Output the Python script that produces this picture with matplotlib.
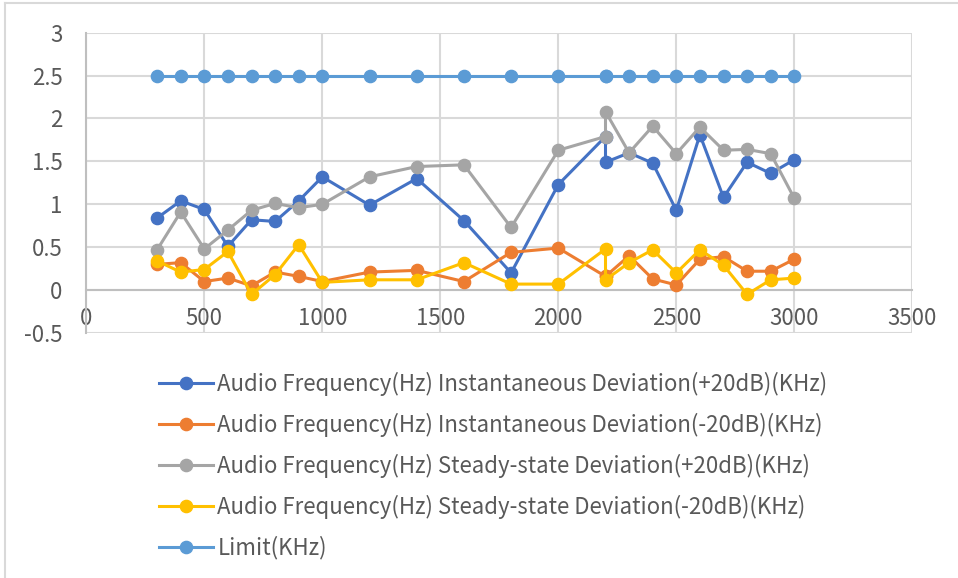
import matplotlib
matplotlib.use('Agg')
import matplotlib.pyplot as plt
from matplotlib.lines import Line2D

plt.rcParams['font.family'] = ['Noto Sans CJK SC', 'DejaVu Sans']

# audio frequency (Hz); 2200 appears twice in the source table
freq = [300, 400, 500, 600, 700, 800, 900, 1000, 1200, 1400, 1600, 1800, 2000,
        2200, 2200, 2300, 2400, 2500, 2600, 2700, 2800, 2900, 3000]

inst_pos = [0.84, 1.04, 0.94, 0.51, 0.82, 0.80, 1.04, 1.32, 0.99, 1.30, 0.81, 0.20, 1.23,
            1.79, 1.49, 1.60, 1.48, 0.93, 1.81, 1.08, 1.49, 1.36, 1.52]
inst_neg = [0.30, 0.32, 0.10, 0.14, 0.05, 0.21, 0.16, 0.10, 0.21, 0.23, 0.10, 0.44, 0.49,
            0.16, 0.16, 0.40, 0.13, 0.06, 0.36, 0.39, 0.22, 0.22, 0.36]
steady_pos = [0.47, 0.91, 0.48, 0.70, 0.93, 1.01, 0.96, 1.00, 1.32, 1.44, 1.46, 0.73, 1.63,
              1.79, 2.08, 1.60, 1.91, 1.59, 1.90, 1.63, 1.64, 1.59, 1.07]
steady_neg = [0.34, 0.21, 0.24, 0.45, -0.05, 0.18, 0.53, 0.09, 0.12, 0.12, 0.32, 0.07, 0.07,
              0.48, 0.12, 0.32, 0.47, 0.20, 0.47, 0.29, -0.05, 0.12, 0.14]
limit = [2.5] * len(freq)

labels = ['Audio Frequency(Hz) Instantaneous Deviation(+20dB)(KHz)',
          'Audio Frequency(Hz) Instantaneous Deviation(-20dB)(KHz)',
          'Audio Frequency(Hz) Steady-state Deviation(+20dB)(KHz)',
          'Audio Frequency(Hz) Steady-state Deviation(-20dB)(KHz)',
          'Limit(KHz)']
colors = ['#4472C4', '#ED7D31', '#A5A5A5', '#FFC000', '#5B9BD5']

W, H = 958, 578
fig = plt.figure(figsize=(W / 100, H / 100), dpi=100)

# outer chart border (only top and left visible)
fig.add_artist(Line2D([5 / W, 5 / W], [0, 1 - 3 / H], color='#d9d9d9', lw=1.5))
fig.add_artist(Line2D([5 / W, 1], [1 - 3 / H, 1 - 3 / H], color='#d9d9d9', lw=1.5))

ax = fig.add_axes([86.3 / W, 1 - 333 / H, (912.3 - 86.3) / W, (333 - 32.7) / H])

series = [inst_pos, inst_neg, steady_pos, steady_neg, limit]
handles = []
for vals, c, lab in zip(series, colors, labels):
    h, = ax.plot(freq, vals, color=c, lw=2.2, marker='o', markersize=8.8, label=lab,
                 zorder=3)
    handles.append(h)

ax.set_xlim(0, 3500)
ax.set_ylim(-0.5, 3)
ax.set_xticks(range(0, 3501, 500))
ax.set_yticks([-0.5, 0, 0.5, 1, 1.5, 2, 2.5, 3])
ax.set_yticklabels(['-0.5', '0', '0.5', '1', '1.5', '2', '2.5', '3'])
ax.grid(True, color='#d9d9d9', lw=1.5)
ax.set_axisbelow(True)

for s in ['top', 'right']:
    ax.spines[s].set_visible(False)
ax.spines['left'].set_color('#bfbfbf')
ax.spines['left'].set_linewidth(1.5)
ax.spines['bottom'].set_position(('data', 0))
ax.spines['bottom'].set_color('#bfbfbf')
ax.spines['bottom'].set_linewidth(1.5)
ax.tick_params(length=0, labelsize=16, labelcolor='#595959')
ax.tick_params(axis='y', pad=17)
ax.tick_params(axis='x', pad=12)

fig.legend(handles=handles, loc='upper left', bbox_to_anchor=(150 / W, 1 - 363 / H),
           frameon=False, fontsize=16, labelcolor='#595959', handlelength=2.45,
           handletextpad=0.18, labelspacing=0.76, borderaxespad=0)

fig.savefig('out.png', dpi=100)
